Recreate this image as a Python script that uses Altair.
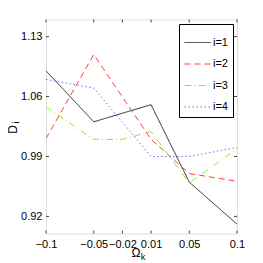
import altair as alt
import pandas as pd

omega = [-0.1, -0.05, -0.02, 0.01, 0.05, 0.1]
series_names = ["i=1", "i=2", "i=3", "i=4"]
d1 = [1.090, 1.0305, 1.0405, 1.0505, 0.960, 0.911]
d2 = [1.011, 1.109, 1.0595, 1.010, 0.970, 0.961]
d3 = [1.048, 1.010, 1.010, 1.019, 0.959, 0.999]
d4 = [1.080, 1.070, 1.030, 0.990, 0.990, 1.0005]
x_ticks = [-0.1, -0.05, -0.02, 0.01, 0.05, 0.1]
y_ticks = [0.92, 0.99, 1.06, 1.13]

colors = ["#262626", "#ff3b3b", "#88f030", "#7070ff"]
dashes = [[1, 0], [6, 4], [7, 3, 1, 3], [1.5, 2.5]]

rows = []
for name, vals in zip(series_names, [d1, d2, d3, d4]):
    for xv, yv in zip(omega, vals):
        rows.append({"omega": xv, "D": yv, "series": name})
df = pd.DataFrame(rows)

W, H = 191, 214
FONT = "Liberation Sans"

xs = alt.Scale(domain=[-0.1, 0.1], nice=False, zero=False)
ys = alt.Scale(domain=[0.9, 1.15], nice=False, zero=False)

xaxis = alt.Axis(values=x_ticks, format="~g", ticks=False, domain=False, grid=False,
                 labelFontSize=11, labelFont=FONT, labelColor="black",
                 labelPadding=5, title=None, labelFlush=False, labelOverlap=False,
                 labelBound=False)
yaxis = alt.Axis(values=y_ticks, format=".2f", ticks=False, domain=False, grid=False,
                 labelFontSize=11, labelFont=FONT, labelColor="black",
                 labelPadding=4, title=None, labelOverlap=False)

leg = alt.Legend(
    title=None, orient="none", legendX=133, legendY=4.5,
    fillColor="white", strokeColor="black", padding=5,
    symbolType="stroke", symbolSize=676, symbolStrokeWidth=1,
    labelFontSize=11, labelFont=FONT, labelOffset=2, rowPadding=2.5,
    labelColor="black",
)

lines = alt.Chart(df).mark_line(strokeWidth=1, clip=True).encode(
    x=alt.X("omega:Q", scale=xs, axis=xaxis, title=None),
    y=alt.Y("D:Q", scale=ys, axis=yaxis, title=None),
    color=alt.Color("series:N", scale=alt.Scale(domain=series_names, range=colors), legend=leg),
    strokeDash=alt.StrokeDash("series:N", scale=alt.Scale(domain=series_names, range=dashes), legend=leg),
)

xt = pd.DataFrame({"t": x_ticks})
yt = pd.DataFrame({"t": y_ticks})
tick_color = "#444444"
xtick_bot = alt.Chart(xt).mark_rule(color=tick_color, strokeWidth=1).encode(
    x=alt.X("t:Q", scale=xs, axis=xaxis, title=None), y=alt.value(H - 3), y2=alt.value(H))
xtick_top = alt.Chart(xt).mark_rule(color=tick_color, strokeWidth=1).encode(
    x=alt.X("t:Q", scale=xs, axis=xaxis, title=None), y=alt.value(0), y2=alt.value(3))
ytick_l = alt.Chart(yt).mark_rule(color=tick_color, strokeWidth=1).encode(
    y=alt.Y("t:Q", scale=ys, axis=yaxis, title=None), x=alt.value(0), x2=alt.value(3))
ytick_r = alt.Chart(yt).mark_rule(color=tick_color, strokeWidth=1).encode(
    y=alt.Y("t:Q", scale=ys, axis=yaxis, title=None), x=alt.value(W - 3), x2=alt.value(W))

lab = pd.DataFrame({"a": [0]})
xlab = alt.Chart(lab).mark_text(text="Ω", fontSize=12, font=FONT, color="black",
                                align="center", baseline="middle").encode(
    x=alt.value(90), y=alt.value(233))
xsub = alt.Chart(lab).mark_text(text="k", fontSize=9, font=FONT, color="black",
                                align="center", baseline="middle").encode(
    x=alt.value(97), y=alt.value(237.5))
ylab = alt.Chart(lab).mark_text(text="D", fontSize=12, font=FONT, color="black",
                                align="center", baseline="middle", angle=270).encode(
    x=alt.value(-33), y=alt.value(110))
ysub = alt.Chart(lab).mark_text(text="i", fontSize=9, font=FONT, color="black",
                                align="center", baseline="middle", angle=270).encode(
    x=alt.value(-30), y=alt.value(103))

chart = alt.layer(lines, xtick_bot, xtick_top, ytick_l, ytick_r, xlab, xsub, ylab, ysub).properties(
    width=W, height=H,
    autosize=alt.AutoSizeParams(type="none"),
    padding={"left": 38, "top": 11.5, "right": 10, "bottom": 29},
).configure_view(stroke="#333333", strokeWidth=1).configure(background="white")

chart.save("out.html", embed_options={"renderer": "svg", "actions": False})
